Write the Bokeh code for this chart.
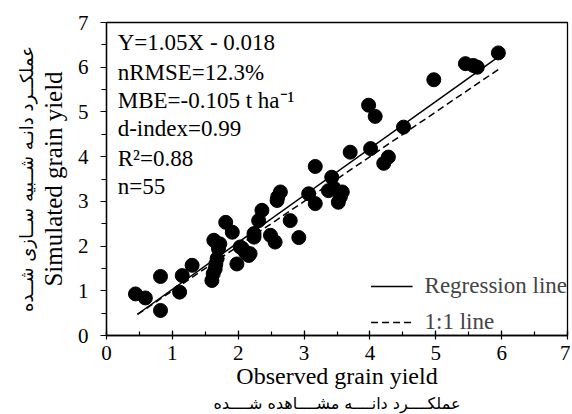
from bokeh.plotting import figure
from bokeh.models import ColumnDataSource, Legend, LegendItem, Title, SingleIntervalTicker
from bokeh.core.properties import value
from bokeh.embed import file_html
from bokeh.resources import INLINE

# ---- data ----
observed = [5.95, 5.45, 5.57, 5.63, 4.97, 3.98, 4.08, 4.51, 3.70, 4.01,
            4.28, 4.21, 3.17, 3.42, 3.37, 3.58, 3.52, 3.07, 3.17, 2.64,
            2.59, 2.36, 2.31, 2.79, 2.92, 2.49, 2.56, 2.24, 2.18, 1.81,
            1.91, 1.63, 1.70, 1.68, 1.65, 1.60, 2.03, 2.11, 2.16, 1.98,
            2.24, 1.30, 1.15, 0.82, 1.11, 0.82, 0.44, 0.59, 1.66, 1.72,
            2.06, 3.45, 2.60, 1.62, 3.55]
simulated = [6.32, 6.08, 6.04, 6.00, 5.72, 5.15, 4.90, 4.66, 4.10, 4.18,
             3.99, 3.85, 3.78, 3.54, 3.24, 3.21, 2.98, 3.17, 2.95, 3.21,
             3.02, 2.80, 2.57, 2.57, 2.19, 2.24, 2.09, 2.20, 1.83, 2.53,
             2.31, 2.13, 1.94, 1.72, 1.49, 1.23, 1.98, 1.86, 1.79, 1.60,
             2.28, 1.57, 1.34, 1.32, 0.97, 0.56, 0.93, 0.84, 1.60, 2.05,
             1.95, 3.30, 3.10, 1.38, 3.10]
slope = 1.05
intercept = -0.018
line_x = [0.47, 5.95]
stats_lines = ["Y=1.05X - 0.018", "nRMSE=12.3%", "MBE=-0.105 t ha\u207b\u00b9",
               "d-index=0.99", "R\u00b2=0.88", "n=55"]
stats_y = [6.55, 5.88, 5.26, 4.63, 3.96, 3.33]
x_label = "Observed grain yield"
x_label_fa = "عملکــــرد دانــــه مشــــاهده شــــده"
y_label = "Simulated grain yield"
y_label_fa = "عملکــرد دانـه شــبیه ســازی شــده"

serif = "'Liberation Serif', 'Times New Roman', serif"

p = figure(width=570, height=414, x_range=(0, 7), y_range=(0, 7),
           output_backend="svg", toolbar_location=None,
           min_border_left=106, min_border_right=3, min_border_top=22,
           min_border_bottom=79)
p.grid.visible = False
p.outline_line_color = "black"
p.outline_line_width = 1.3
p.background_fill_color = "white"
p.border_fill_color = "white"

# axes
p.xaxis.ticker = SingleIntervalTicker(interval=1, num_minor_ticks=2)
p.yaxis.ticker = SingleIntervalTicker(interval=1, num_minor_ticks=2)
for ax in (p.xaxis, p.yaxis):
    ax.axis_line_color = "black"
    ax.axis_line_width = 1.3
    ax.major_tick_line_color = "black"
    ax.minor_tick_line_color = "black"
    ax.major_tick_line_width = 1.2
    ax.minor_tick_line_width = 1.2
    ax.major_label_text_font = serif
    ax.major_label_text_font_size = "21px"
    ax.major_label_text_color = "black"
    ax.axis_label_text_font = serif
    ax.axis_label_text_font_style = "normal"
    ax.axis_label_text_color = "black"
p.xaxis.major_tick_in = 5
p.xaxis.major_tick_out = 4
p.xaxis.minor_tick_in = 4
p.xaxis.minor_tick_out = 0
p.xaxis.major_label_standoff = 6
p.xaxis.axis_label = x_label
p.xaxis.axis_label_text_font_size = "24px"
p.xaxis.axis_label_standoff = 0
p.yaxis.major_tick_in = 0
p.yaxis.major_tick_out = 6
p.yaxis.minor_tick_in = 0
p.yaxis.minor_tick_out = 5
p.yaxis.major_label_standoff = 12
p.yaxis.axis_label = y_label
p.yaxis.axis_label_text_font_size = "25px"
p.yaxis.axis_label_standoff = 8

p.add_layout(Title(text=x_label_fa, align="center", text_font="DejaVu Sans",
                   text_font_size="16px", text_font_style="normal",
                   text_color="black", standoff=0, offset=0), "below")
p.add_layout(Title(text=y_label_fa, align="center", text_font="DejaVu Sans",
                   text_font_size="18px", text_font_style="normal",
                   text_color="black", standoff=0, offset=0), "left")

# points
src = ColumnDataSource(dict(x=observed, y=simulated))
p.scatter("x", "y", source=src, size=14, color="black")

# lines
reg = p.line(line_x, [slope * v + intercept for v in line_x], line_color="black", line_width=1.5)
one = p.line(line_x, line_x, line_color="black", line_width=1.5, line_dash="7 4")

legend = Legend(items=[LegendItem(label="Regression line", renderers=[reg]),
                       LegendItem(label="1:1 line", renderers=[one])],
                location="bottom_right", border_line_color=None,
                background_fill_alpha=0, label_text_font=serif,
                label_text_font_size="23px", glyph_width=42, label_standoff=12,
                spacing=10, margin=0, padding=1)
p.add_layout(legend)

# stats text
tsrc = ColumnDataSource(dict(x=[0.17] * len(stats_lines), y=stats_y, t=stats_lines))
p.text("x", "y", text="t", source=tsrc, text_font=value(serif), text_font_size="23px",
       text_baseline="middle", text_align="left", text_color="black")

open("out.html", "w").write(file_html(p, INLINE))
